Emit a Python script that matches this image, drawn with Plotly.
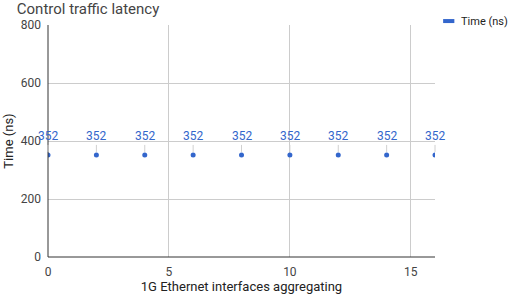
import plotly.graph_objects as go

interfaces = [0, 2, 4, 6, 8, 10, 12, 14, 16]
time_ns = [352, 352, 352, 352, 352, 352, 352, 352, 352]
series_name = "Time (ns)"
x_ticks = [0, 5, 10, 15]
y_ticks = [0, 200, 400, 600, 800]

blue = "#3366cc"
fig = go.Figure()
fig.add_trace(go.Scatter(
    x=interfaces, y=time_ns, mode="markers", name=series_name,
    marker=dict(color=blue, size=5), showlegend=False,
))
for xv, yv in zip(interfaces, time_ns):
    fig.add_annotation(
        x=xv, y=yv, text=str(yv), showarrow=True, arrowhead=0,
        arrowwidth=1, arrowcolor="#d0d0d0", ax=0, ay=-10, standoff=3,
        font=dict(color=blue, size=12, family="Roboto"),
        yanchor="bottom",
    )

# legend (Google-Charts style short swatch)
fig.add_shape(type="line", xref="paper", yref="paper", x0=1.021, x1=1.050,
              y0=1.017, y1=1.017, line=dict(color=blue, width=4))
fig.add_annotation(xref="paper", yref="paper", x=1.063, y=1.017, text=series_name,
                   showarrow=False, xanchor="left", yanchor="middle",
                   font=dict(size=11, color="#222222"))

fig.update_layout(
    width=509, height=294,
    margin=dict(l=48, r=74, t=25, b=37),
    paper_bgcolor="white", plot_bgcolor="white",
    showlegend=False,
    font=dict(family="Roboto", color="#444444", size=12),
    title=dict(text="Control traffic latency", x=0.033, xanchor="left",
               y=0.97, yanchor="middle", font=dict(size=15, color="#444444")),
    xaxis=dict(range=[0, 16], tickvals=x_ticks, showgrid=True, gridcolor="#cccccc",
               zeroline=False, showline=False, ticks="", automargin=False,
               ticklabelstandoff=6,
               title=dict(text="1G Ethernet interfaces aggregating", standoff=2,
                          font=dict(size=13, color="#222222"))),
    yaxis=dict(range=[0, 800], tickvals=y_ticks, showgrid=True, gridcolor="#cccccc",
               zeroline=False, showline=False, ticks="", automargin=False,
               ticklabelstandoff=6,
               title=dict(text="Time (ns)", standoff=4,
                          font=dict(size=13, color="#222222"))),
)
fig.add_shape(type="line", xref="paper", yref="paper", x0=0, x1=1, y0=0, y1=0,
              line=dict(color="#333333", width=1))
fig.add_shape(type="line", xref="paper", yref="paper", x0=0, x1=0, y0=0, y1=1,
              line=dict(color="#333333", width=1))
fig.write_html("out.html", config={"displayModeBar": False},
               post_script="document.body.style.margin='0';document.body.style.overflow='hidden';")
